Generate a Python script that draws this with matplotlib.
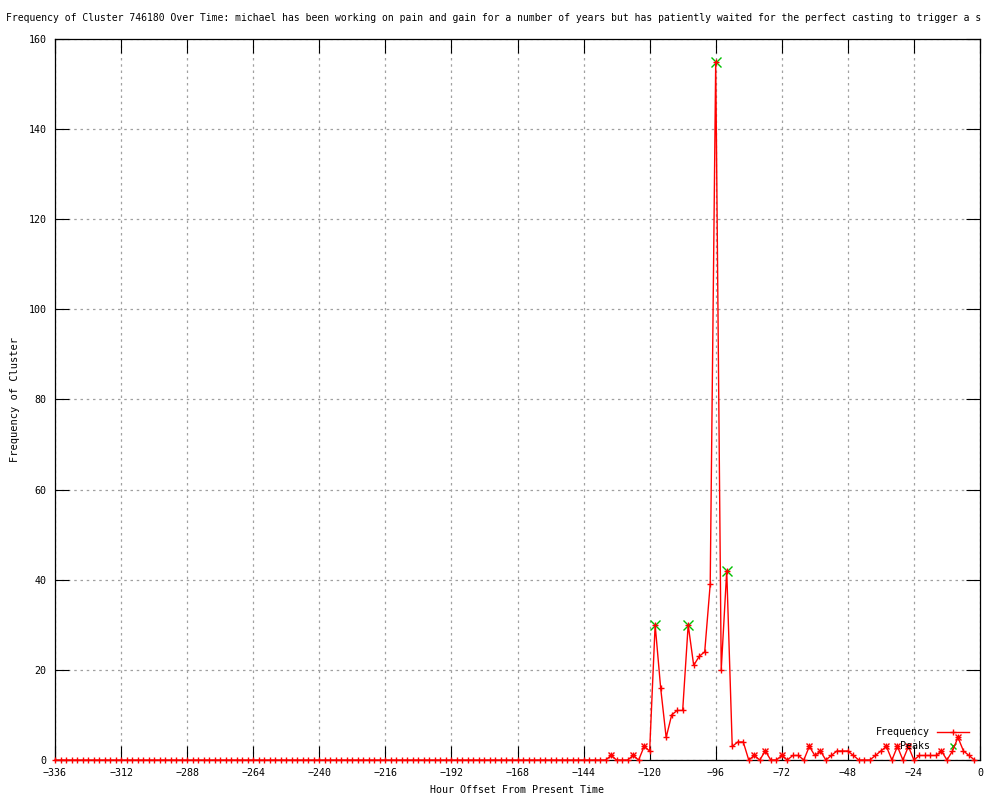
import numpy as np
import matplotlib
matplotlib.use("Agg")
import matplotlib.pyplot as plt
from matplotlib.lines import Line2D

# ---------------- data ----------------
hours = np.arange(-336, 0, 2)  # one sample every 2 hours
frequency = [0] * 101 + [
    1, 0, 0, 0, 1, 0, 3, 2, 30, 16,
    5, 10, 11, 11, 30, 21, 23, 24, 39, 155,
    20, 42, 3, 4, 4, 0, 1, 0, 2, 0,
    0, 1, 0, 1, 1, 0, 3, 1, 2, 0,
    1, 2, 2, 2, 1, 0, 0, 0, 1, 2,
    3, 0, 3, 0, 3, 0, 1, 1, 1, 1,
    2, 0, 2, 5, 2, 1, 0,
]
peak_hours = [-118, -106, -96, -92]
peak_values = [30, 30, 155, 42]
local_max_hours = [-134, -126, -122, -82, -78, -72, -62, -58, -34, -30, -26, -14, -8]

title = ("Frequency of Cluster 746180 Over Time: michael has been working on pain and gain "
         "for a number of years but has patiently waited for the perfect casting to trigger a s")
xlabel = "Hour Offset From Present Time"
ylabel = "Frequency of Cluster"
xticks = list(range(-336, 1, 24))
yticks = list(range(0, 161, 20))

# ---------------- style ----------------
FONT = "DejaVu Sans Mono"
FS = 7.2
plt.rcParams["font.family"] = FONT

fig = plt.figure(figsize=(10, 8), dpi=100)
ax = fig.add_axes([0.055, 0.05, 0.925, 0.90125])

freq_map = dict(zip(hours.tolist(), frequency))
local_max_vals = [freq_map[h] for h in local_max_hours]

ax.plot(hours, frequency, color="#ff0000", lw=1.0, marker="+", ms=5, mew=1.0,
        zorder=3, clip_on=False)
ax.plot(local_max_hours, local_max_vals, ls="none", color="#ff0000", marker="x",
        ms=4, mew=1.0, zorder=3, clip_on=False)
ax.plot(peak_hours, peak_values, ls="none", color="#00c000", marker="x",
        ms=6.5, mew=1.0, zorder=2)

ax.set_xlim(-336, 0)
ax.set_ylim(0, 160)
ax.set_xticks(xticks)
ax.set_yticks(yticks)
ax.set_xticklabels([("\u2212" if t < 0 else "") + str(abs(t)) for t in xticks],
                   fontsize=FS)
ax.set_yticklabels([str(t) for t in yticks], fontsize=FS)
ax.tick_params(direction="in", length=10, width=0.8, top=True, right=True,
               color="black", pad=6)
ax.grid(True, color="#a0a0a0", lw=0.9, ls=(0, (2, 3)))
ax.set_axisbelow(True)
for s in ax.spines.values():
    s.set_linewidth(0.9)
    s.set_color("black")

ax.set_xlabel(xlabel, fontsize=FS, labelpad=5)
ax.set_ylabel(ylabel, fontsize=FS + 0.3, labelpad=6)
fig.text(0.006, 0.978, title, fontsize=7.0, ha="left", va="center")

# manual gnuplot-style key (lower right)
ax.text(0.946, 0.0388, "Frequency", transform=ax.transAxes, ha="right",
        va="center", fontsize=FS)
ax.text(0.946, 0.0194, "Peaks", transform=ax.transAxes, ha="right",
        va="center", fontsize=FS)
ax.add_line(Line2D([0.9535, 0.988], [0.0388, 0.0388], transform=ax.transAxes,
                   color="#ff0000", lw=1.0))
ax.add_line(Line2D([0.9708], [0.0388], transform=ax.transAxes, color="#ff0000",
                   marker="+", ms=5, mew=1.0, ls="none"))
ax.add_line(Line2D([0.9708], [0.0194], transform=ax.transAxes, color="#00c000",
                   marker="x", ms=5, mew=1.0, ls="none"))

fig.savefig("out.png", dpi=100)
